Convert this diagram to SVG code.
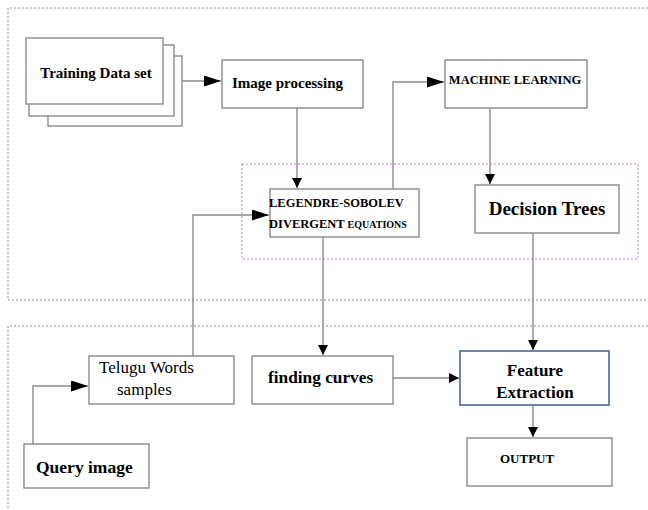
<svg xmlns="http://www.w3.org/2000/svg" width="648" height="510" viewBox="0 0 648 510">
<defs>
<style>
.box{fill:#fff;stroke:#8a8a8a;stroke-width:1.4}
.fe{fill:#fff;stroke:#4a6a9a;stroke-width:1.6}
.ln{fill:none;stroke:#8a8a8a;stroke-width:1.4}
.grp{fill:none;stroke:#8a8a8a;stroke-width:1;stroke-dasharray:2 2}
.mg{fill:none;stroke:#c080c8;stroke-width:1;stroke-dasharray:2 2}
.b{font-weight:bold}
</style>
<marker id="ah" viewBox="0 0 10 10" refX="10" refY="5" markerWidth="10" markerHeight="10" markerUnits="userSpaceOnUse" orient="auto">
<path d="M0,0 L10,5 L0,10 z" fill="#000"/>
</marker>
<marker id="ahw" viewBox="0 0 10 10" refX="10" refY="5" markerWidth="17" markerHeight="11" markerUnits="userSpaceOnUse" orient="auto" preserveAspectRatio="none">
<path d="M0,0 L10,5 L0,10 z" fill="#000"/>
</marker>
</defs>
<rect width="648" height="510" fill="#fff"/>
<g id="regions">
<path class="grp" d="M660,8 H8 V300 H660"/>
<path class="grp" d="M660,326 H8 V520"/>
<rect class="mg" x="242" y="164" width="396" height="95"/>
</g>
<g id="connectors">
<line class="ln" x1="182" y1="81" x2="221" y2="81" marker-end="url(#ahw)"/>
<line class="ln" x1="297" y1="108" x2="297" y2="188" marker-end="url(#ah)"/>
<polyline class="ln" points="393,189 393,82 444,82" marker-end="url(#ahw)"/>
<line class="ln" x1="490" y1="108" x2="490" y2="184" marker-end="url(#ah)"/>
<polyline class="ln" points="193,356 193,215 269,215" marker-end="url(#ahw)"/>
<line class="ln" x1="323" y1="237" x2="323" y2="355" marker-end="url(#ah)"/>
<line class="ln" x1="533" y1="233" x2="533" y2="350" marker-end="url(#ah)"/>
<polyline class="ln" points="33,444 33,386 88,386" marker-end="url(#ahw)"/>
<line class="ln" x1="393" y1="378" x2="459" y2="378" marker-end="url(#ah)"/>
<line class="ln" x1="533" y1="405" x2="533" y2="437" marker-end="url(#ah)"/>
</g>
<g id="training">
<rect class="box" x="48" y="56" width="134" height="70"/>
<rect class="box" x="29" y="45" width="145" height="71"/>
<rect class="box" x="26" y="38" width="137" height="66"/>
<text class="b" x="96" y="78" font-size="15" text-anchor="middle" font-family="Liberation Serif, DejaVu Serif, serif">Training Data set</text>
</g>
<g id="imageproc">
<rect class="box" x="222" y="60" width="141" height="48"/>
<text class="b" x="232" y="88" font-size="15" font-family="Liberation Serif, DejaVu Serif, serif">Image processing</text>
</g>
<g id="ml">
<rect class="box" x="445" y="60" width="142" height="48"/>
<text class="b" x="515" y="84" font-size="12.5" text-anchor="middle" font-family="Liberation Serif, DejaVu Serif, serif">MACHINE LEARNING</text>
</g>
<g id="legendre">
<rect class="box" x="270" y="189" width="149" height="48"/>
<text class="b" x="269" y="207" font-size="12.5" font-family="Liberation Serif, DejaVu Serif, serif">LEGENDRE-SOBOLEV</text>
<text class="b" x="269" y="228" font-size="12.5" font-family="Liberation Serif, DejaVu Serif, serif">DIVERGENT <tspan font-size="10">EQUATIONS</tspan></text>
</g>
<g id="decision">
<rect class="box" x="475" y="185" width="144" height="48"/>
<text class="b" x="547" y="215" font-size="19" text-anchor="middle" font-family="Liberation Serif, DejaVu Serif, serif">Decision Trees</text>
</g>
<g id="telugu">
<rect class="box" x="89" y="356" width="145" height="48"/>
<text x="99" y="373" font-size="17" font-family="Liberation Serif, DejaVu Serif, serif">Telugu Words</text>
<text x="117" y="395" font-size="17" font-family="Liberation Serif, DejaVu Serif, serif">samples</text>
</g>
<g id="finding">
<rect class="box" x="252" y="356" width="141" height="48"/>
<text class="b" x="268" y="383" font-size="17.3" font-family="Liberation Serif, DejaVu Serif, serif">finding curves</text>
</g>
<g id="feature">
<rect class="fe" x="460" y="351" width="149" height="54"/>
<text class="b" x="535" y="376" font-size="17" text-anchor="middle" font-family="Liberation Serif, DejaVu Serif, serif">Feature</text>
<text class="b" x="535" y="398" font-size="17" text-anchor="middle" font-family="Liberation Serif, DejaVu Serif, serif">Extraction</text>
</g>
<g id="query">
<rect class="box" x="24" y="444" width="125" height="44"/>
<text class="b" x="36" y="473" font-size="17.5" font-family="Liberation Serif, DejaVu Serif, serif">Query image</text>
</g>
<g id="output">
<rect class="box" x="467" y="438" width="145" height="48"/>
<text class="b" x="500" y="463" font-size="13" font-family="Liberation Serif, DejaVu Serif, serif">OUTPUT</text>
</g>
</svg>
